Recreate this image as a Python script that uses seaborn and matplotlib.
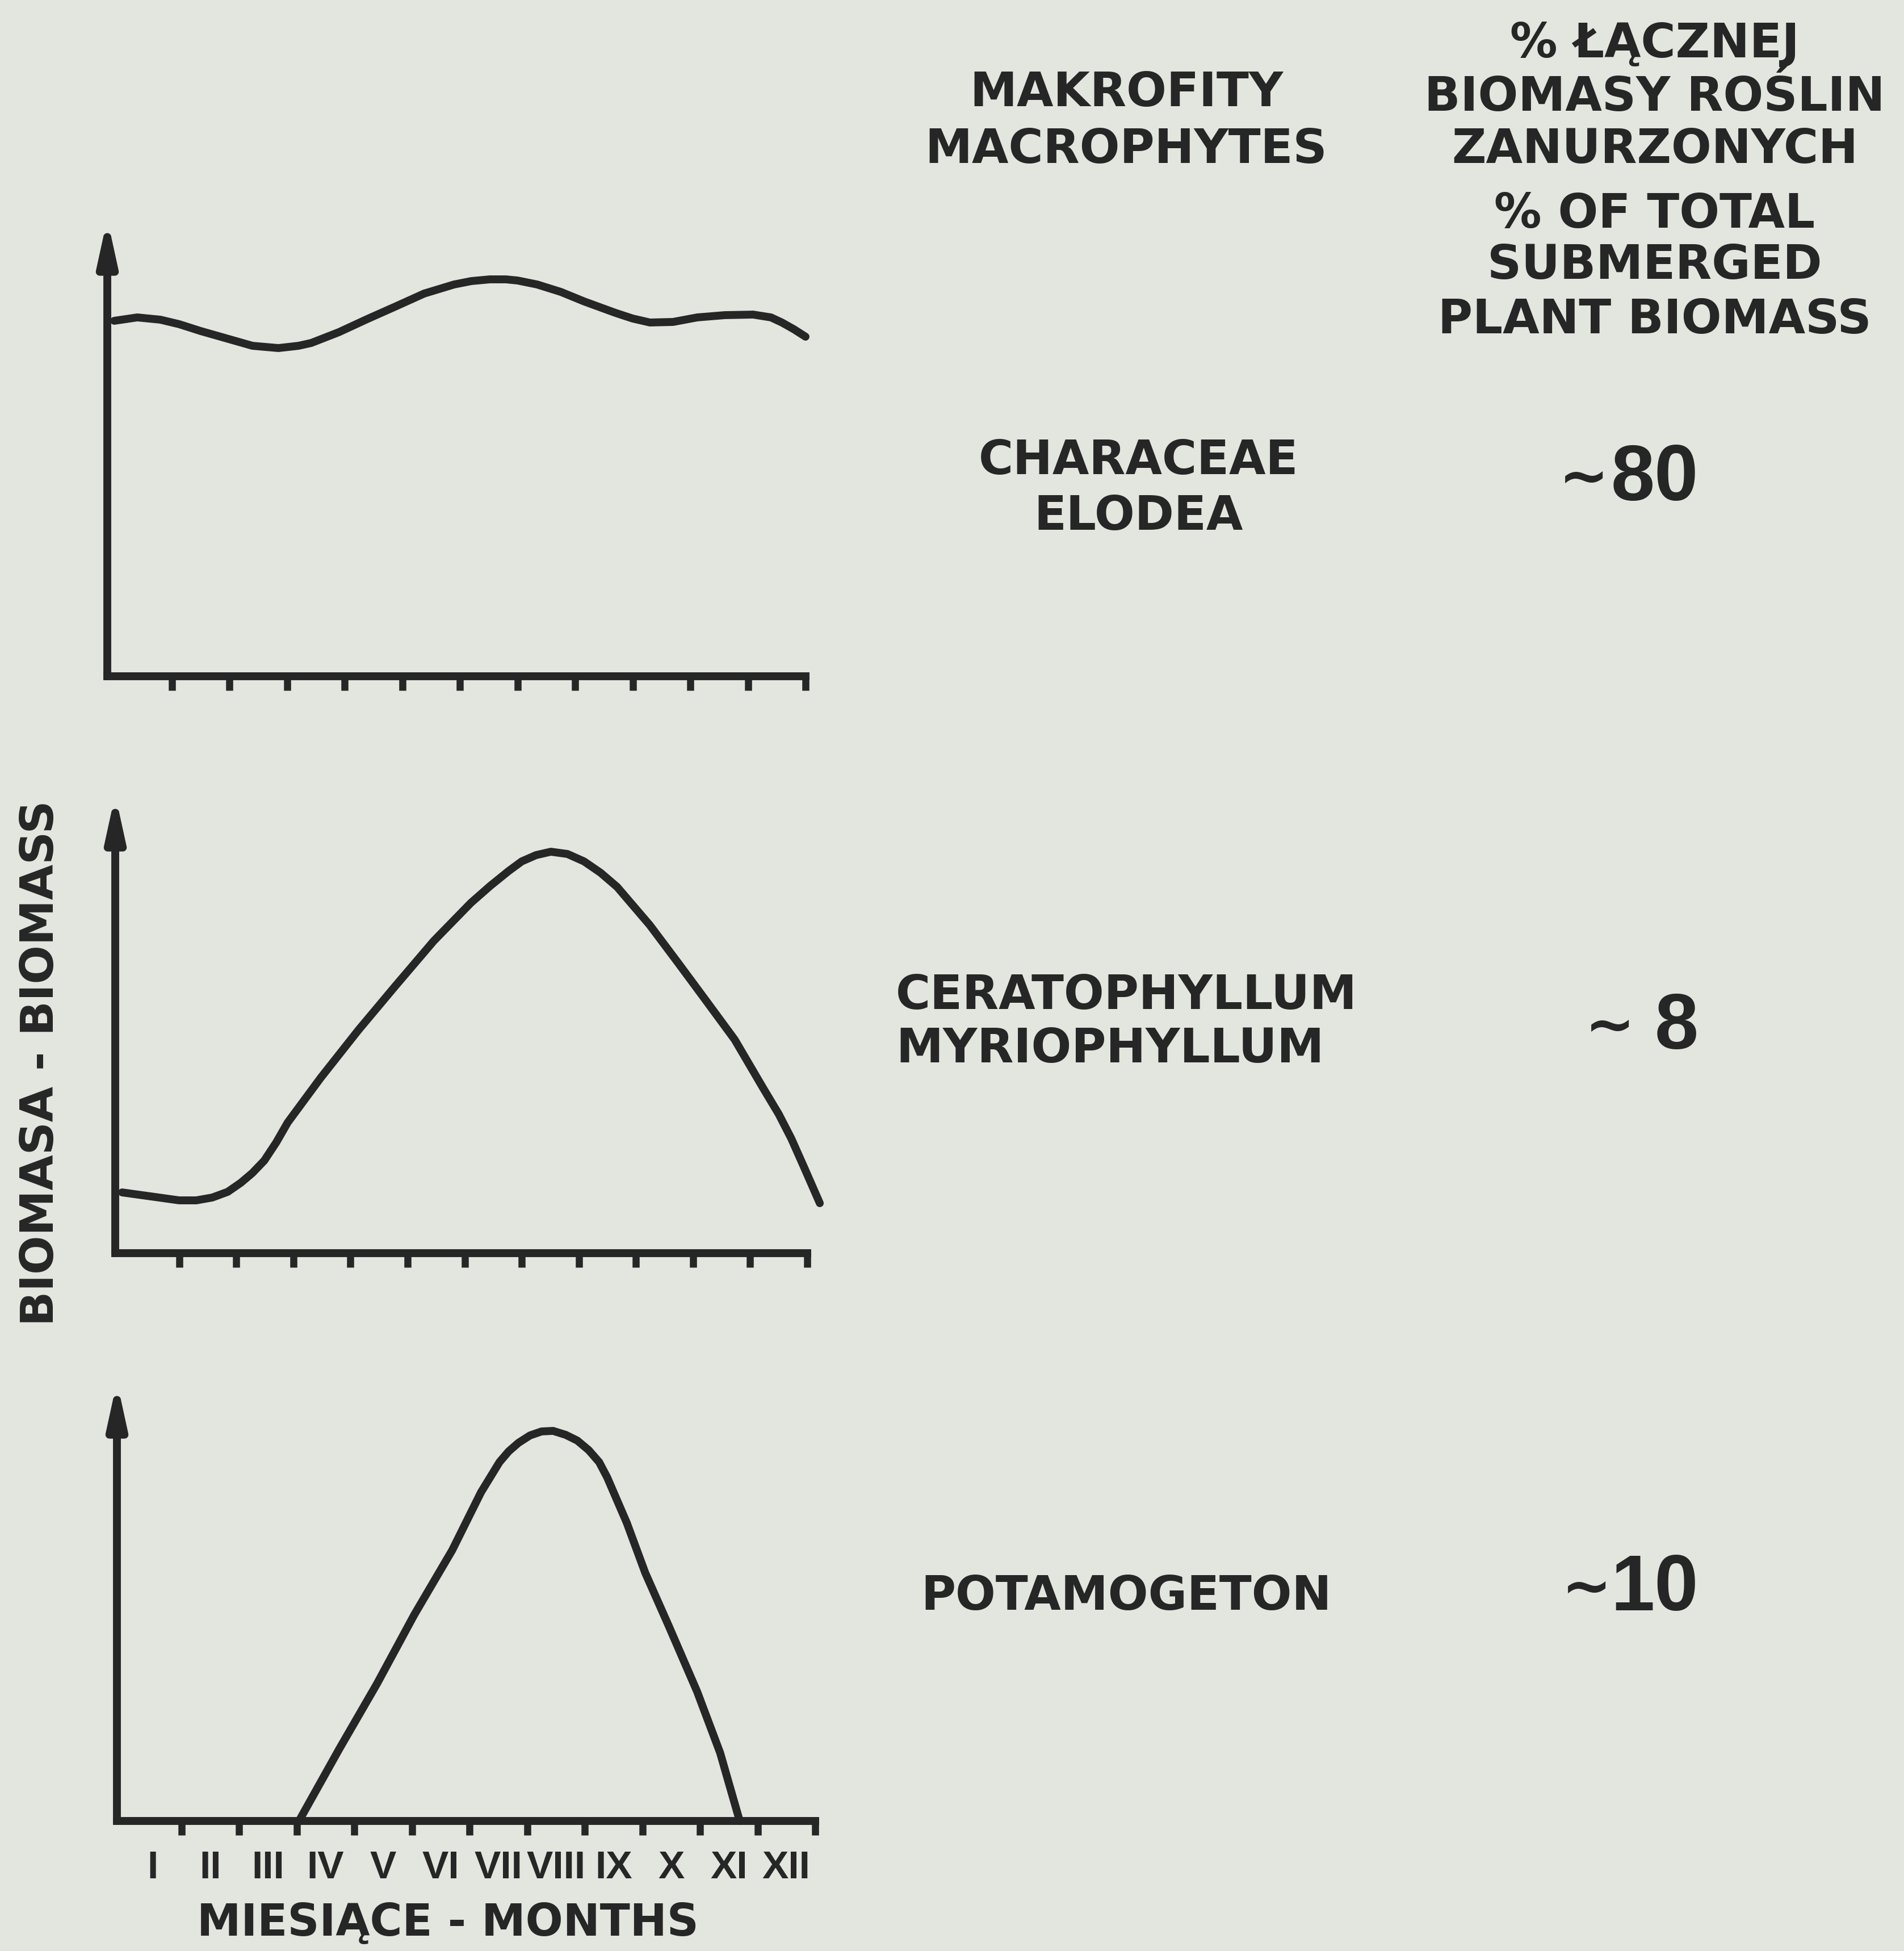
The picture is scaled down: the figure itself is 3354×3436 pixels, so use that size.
import numpy as np
import pandas as pd
import matplotlib
matplotlib.use("Agg")
import matplotlib.pyplot as plt
import seaborn as sns

# ---------------- data ----------------
month_labels = ["I", "II", "III", "IV", "V", "VI", "VII", "VIII", "IX", "X", "XI", "XII"]

# Characeae / Elodea (relative biomass, arbitrary units)
months_chara = [0.0, 0.4, 0.8, 1.13, 1.5, 1.95, 2.4, 2.85, 3.2, 3.42, 3.9, 4.39, 4.9, 5.38,
                5.9, 6.2, 6.52, 6.8, 7.0, 7.34, 7.75, 8.16, 8.7, 9.0, 9.3, 9.7, 10.12, 10.6,
                11.09, 11.4, 11.59, 11.8, 12.0]
biomass_chara = [626, 632, 628, 620, 608, 595, 582, 578, 582, 587, 606, 629, 652, 674,
                 690, 696, 699, 699, 697, 690, 677, 660, 640, 630, 623, 624, 632, 636,
                 637, 632, 623, 611, 598]

# Ceratophyllum / Myriophyllum
months_cerato = [0.0, 0.43, 1.0, 1.3, 1.58, 1.85, 2.08, 2.28, 2.49, 2.7, 2.9, 3.48, 4.14,
                 4.79, 5.46, 6.11, 6.45, 6.77, 7.0, 7.25, 7.51, 7.8, 8.09, 8.38, 8.67, 9.24,
                 9.74, 10.24, 10.73, 11.22, 11.5, 11.72, 11.95, 12.22]
biomass_cerato = [107, 101, 93, 93, 98, 108, 124, 141, 163, 195, 230, 309, 393,
                  471, 550, 617, 647, 673, 690, 701, 707, 703, 690, 670, 645, 578,
                  511, 443, 376, 292, 245, 202, 150, 88]

# Potamogeton
months_potam = [3.04, 3.74, 4.39, 5.04, 5.7, 6.2, 6.52, 6.68, 6.85, 7.05, 7.25, 7.45, 7.67,
                7.87, 8.07, 8.25, 8.39, 8.73, 9.05, 9.46, 9.95, 10.35, 10.69]
biomass_potam = [0, 127, 241, 363, 477, 579, 632, 651, 666, 679, 686, 687, 680,
                 670, 653, 632, 605, 525, 437, 343, 228, 120, 0]

share_labels = ["~80", "~8", "~10"]

# ---------------- style ----------------
sns.set_style("white")
plt.rcParams["font.family"] = ["DejaVu Sans"]
INK = "#262626"
BG = "#e2e6de"
NARROW = ["Liberation Sans", "DejaVu Sans"]

W, H, DPI = 3354, 3437, 200
fig = plt.figure(figsize=(W / DPI, H / DPI), dpi=DPI, facecolor=BG)


def rect(l, r, b, t):
    return [l / W, 1 - b / H, (r - l) / W, (b - t) / H]


def fx(x):
    return x / W


def fy(y):
    return 1 - y / H


panels = [
    (months_chara, biomass_chara, rect(189, 1419, 1192, 386), 806, False),
    (months_cerato, biomass_cerato, rect(203, 1422, 2208, 1400), 808, False),
    (months_potam, biomass_potam, rect(206, 1436, 3208, 2434), 774, True),
]

for m, b, r, ymax, show_labels in panels:
    ax = fig.add_axes(r)
    ax.set_facecolor("none")
    df = pd.DataFrame({"month": m, "biomass": b})
    sns.lineplot(data=df, x="month", y="biomass", ax=ax, color=INK, linewidth=5,
                 sort=False, estimator=None, solid_capstyle="round",
                 solid_joinstyle="round", clip_on=False)
    ax.set_xlim(-0.12, 12.0)
    ax.set_ylim(0, ymax)
    for s in ["top", "right", "left"]:
        ax.spines[s].set_visible(False)
    ax.spines["bottom"].set_linewidth(5)
    ax.spines["bottom"].set_color(INK)
    ax.set_yticks([])
    ax.set_xticks(np.arange(1, 13))
    ax.tick_params(axis="x", which="major", bottom=True, length=9, width=4.5, color=INK,
                   direction="out", labelbottom=False)
    ax.set_xlabel("")
    ax.set_ylabel("")
    if show_labels:
        ax.set_xticks(np.arange(12) + 0.5, minor=True)
        ax.set_xticklabels(month_labels, minor=True)
        ax.tick_params(axis="x", which="minor", bottom=True, length=0, pad=18,
                       labelsize=25, labelcolor=INK, labelbottom=True)
        for t in ax.get_xticklabels(minor=True):
            t.set_fontfamily(NARROW)
            t.set_fontweight("bold")
    # vertical axis with arrow
    ax.annotate("", xy=(-0.12, ymax), xytext=(-0.12, 0), xycoords="data",
                arrowprops=dict(arrowstyle="-|>,head_length=1.1,head_width=0.24",
                                mutation_scale=20, lw=5, color=INK,
                                shrinkA=0, shrinkB=0),
                annotation_clip=False)

txt = dict(color=INK, fontweight="bold", ha="center", va="center")

# header
fig.text(fx(1984), fy(164), "MAKROFITY", fontsize=30, **txt)
fig.text(fx(1984), fy(263), "MACROPHYTES", fontsize=30, **txt)
header_right = ["% ŁĄCZNEJ", "BIOMASY ROŚLIN", "ZANURZONYCH", "% OF TOTAL", "SUBMERGED",
                "PLANT BIOMASS"]
header_y = [77, 171, 263, 377, 467, 563]
for s, y in zip(header_right, header_y):
    fig.text(fx(2915), fy(y), s, fontsize=30, **txt)

# species names
fig.text(fx(2006), fy(811), "CHARACEAE", fontsize=30, **txt)
fig.text(fx(2006), fy(910), "ELODEA", fontsize=30, **txt)
fig.text(fx(1578), fy(1754), "CERATOPHYLLUM", fontsize=30, color=INK, fontweight="bold",
         ha="left", va="center")
fig.text(fx(1578), fy(1848), "MYRIOPHYLLUM", fontsize=30, color=INK, fontweight="bold",
         ha="left", va="center")
fig.text(fx(1984), fy(2812), "POTAMOGETON", fontsize=30, **txt)

# shares (~ value)
share_y = [845, 1811, 2800]
tilde_x = [2790, 2836, 2795]
for s, y, tx in zip(share_labels, share_y, tilde_x):
    fig.text(fx(tx), fy(y), "~", fontsize=38, color=INK, fontweight="bold",
             ha="center", va="center")
    fig.text(fx(2992), fy(y), s[1:], fontsize=50, color=INK, fontweight="bold",
             ha="right", va="center", family=NARROW)

# axis titles
fig.text(fx(72), fy(1872), "BIOMASA - BIOMASS", fontsize=29, rotation=90, **txt)
fig.text(fx(789), fy(3387), "MIESIĄCE - MONTHS", fontsize=28, **txt)

fig.savefig("out.png", dpi=DPI, facecolor=BG)
